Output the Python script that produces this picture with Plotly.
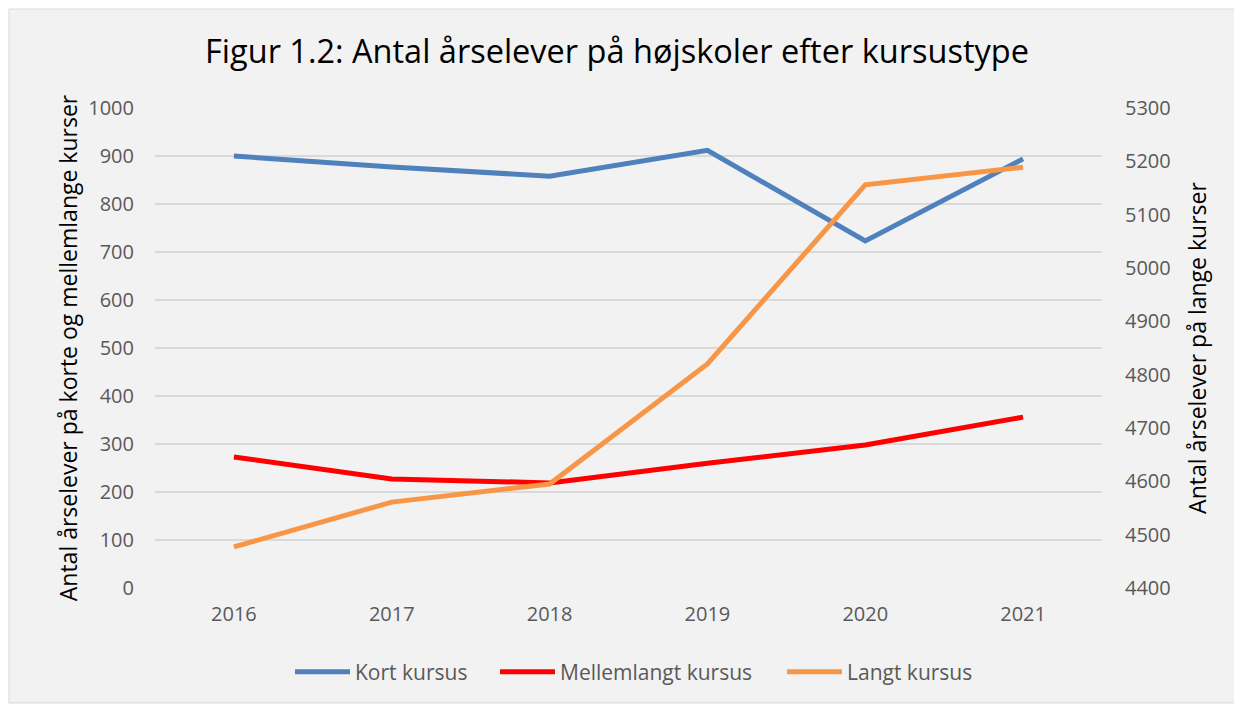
import plotly.graph_objects as go

years = ["2016", "2017", "2018", "2019", "2020", "2021"]
kort = [900, 877, 858, 912, 723, 894]
mellemlangt = [273, 227, 219, 260, 298, 356]
langt = [4477, 4561, 4595, 4820, 5156, 5189]

left_ticks = list(range(0, 1001, 100))
right_ticks = list(range(4400, 5301, 100))

font_family = "Open Sans"
tick_color = "#595959"

W, H = 1234, 699
L, R, T, B = 147, 140, 100, 119
PW, PH = W - L - R, H - T - B

fig = go.Figure()
fig.add_trace(go.Scatter(x=years, y=kort, name="Kort kursus", mode="lines",
                         line=dict(color="#4f81bd", width=5), legend="legend"))
fig.add_trace(go.Scatter(x=years, y=mellemlangt, name="Mellemlangt kursus", mode="lines",
                         line=dict(color="#ff0000", width=5), legend="legend2"))
fig.add_trace(go.Scatter(x=years, y=langt, name="Langt kursus", mode="lines",
                         line=dict(color="#f79646", width=5), yaxis="y2", legend="legend3"))

def leg(px):
    return dict(orientation="h", x=(px - 8 - L) / PW, xanchor="left", y=-84 / PH,
                yanchor="middle", font=dict(size=21, color=tick_color),
                bgcolor="rgba(0,0,0,0)", itemwidth=55)

fig.update_layout(
    width=W, height=H,
    paper_bgcolor="white", plot_bgcolor="#f2f2f2",
    margin=dict(l=L, r=R, t=T, b=B),
    font=dict(family=font_family, color=tick_color),
    title=dict(text="Figur 1.2: Antal årselever på højskoler efter kursustype",
               x=609 / W, xanchor="center", y=1 - 44 / H, yanchor="middle",
               font=dict(size=32.5, color="black", family=font_family)),
    xaxis=dict(type="category", range=[-0.5, 5.5], showgrid=False, zeroline=False,
               tickfont=dict(size=20, color=tick_color), ticks="", showline=False,
               ticklabelstandoff=12),
    yaxis=dict(range=[0, 1000], tickvals=left_ticks, showgrid=True, gridcolor="#d9d9d9",
               gridwidth=1.5, zeroline=False, tickfont=dict(size=20, color=tick_color),
               ticklabelstandoff=20,
               title=dict(text="Antal årselever på korte og mellemlange kurser",
                          font=dict(size=23, color="black"), standoff=4)),
    yaxis2=dict(range=[4400, 5300], tickvals=right_ticks, overlaying="y", side="right",
                showgrid=False, zeroline=False, tickfont=dict(size=20, color=tick_color),
                ticklabelstandoff=22,
                title=dict(text="Antal årselever på lange kurser",
                           font=dict(size=23, color="black"), standoff=20)),
    legend=leg(290),
    legend2=leg(495),
    legend3=leg(782),
    showlegend=True,
)

fig.add_shape(type="rect", xref="paper", yref="paper",
              x0=(1 - L) / PW, x1=(1230 - L) / PW, y0=-(695 - (T + PH)) / PH, y1=1 + (T - 1) / PH,
              fillcolor="#f2f2f2", line=dict(color="#d9d9d9", width=1), layer="below")

fig.write_html("out.html")
